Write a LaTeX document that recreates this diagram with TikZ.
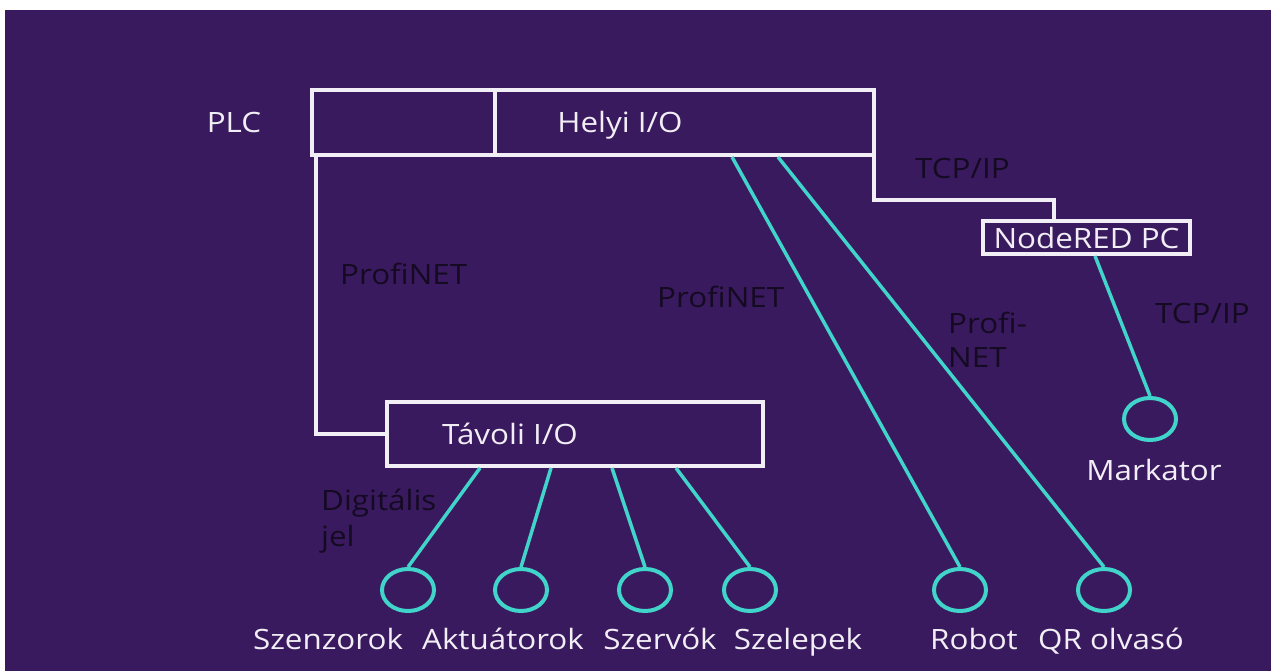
\documentclass[tikz,border=0pt]{standalone}
\usepackage{fontspec}
\setmainfont{Open Sans}[FakeStretch=1.12]
\usepackage{tikz}
\usetikzlibrary{shapes.geometric}
\definecolor{bgpurple}{RGB}{58,26,94}
\definecolor{netteal}{RGB}{64,212,202}
\definecolor{boxwhite}{RGB}{242,238,246}
\definecolor{inkdark}{RGB}{20,10,34}
\newcommand{\wirew}{4pt}
\newcommand{\linkw}{3.5pt}
\newcommand{\lblsize}{\fontsize{28}{34}\selectfont}

\begin{document}
\begin{tikzpicture}[x=1pt, y=-1pt,
        box/.style={draw=boxwhite, line width=\wirew, inner sep=0pt},
        wire/.style={draw=boxwhite, line width=\wirew},
        link/.style={draw=netteal, line width=\linkw},
        dev/.style={ellipse, draw=netteal, line width=\wirew, minimum width=52pt, minimum height=42pt, inner sep=0pt},
        lbl/.style={text=boxwhite, font=\lblsize, inner sep=0pt},
        netlbl/.style={text=inkdark, font=\lblsize, inner sep=0pt, anchor=base west}]
    \useasboundingbox (0,0) rectangle (1271,671);
    \fill[white] (0,0) rectangle (1271,671);
    \fill[bgpurple] (5,10) rectangle (1271,671);
    %\draw[help lines, step=50] (0,0) grid (1271,671);

    % PLC with its local I/O, the remote I/O and the PC
    \node[box, minimum width=183pt, minimum height=65pt] (plc) at (403.5,122.5) {};
    \node[box, minimum width=379pt, minimum height=65pt] (helyi) at (684.5,122.5) {};
    \node[box, minimum width=376pt, minimum height=64pt] (tavoli) at (575,434) {};
    \node[box, lbl, minimum width=207pt, minimum height=33pt] (nodered) at (1086.5,237.5) {NodeRED PC};

    % field devices
    \foreach \name/\x in {szenzor/408, aktuator/521, szervo/645, szelep/750, robot/960, qr/1104}
        \node[dev] (\name) at (\x,590) {};
    \node[dev] (markator) at (1150,419) {};

    % wiring
    \draw[wire] ([xshift=6pt]plc.south west) |- (tavoli.west);
    \draw[wire] ([xshift=-2pt]helyi.south east) -- ++(0,43) -| ([xshift=-33pt]nodered.north);
    \foreach \name/\dx in {szenzor/95, aktuator/166, szervo/227, szelep/291}
        \draw[link] ([xshift=\dx pt]tavoli.south west) -- (\name.north);
    \draw[link] ([xshift=239pt]helyi.south west) -- (robot.north);
    \draw[link] ([xshift=285pt]helyi.south west) -- (qr.north);
    \draw[link] ([xshift=114pt]nodered.south west) -- (markator.north);

    % labels
    \node[lbl, anchor=base] (plclbl) at (234,133) {PLC};
    \node[lbl, anchor=base] (helyilbl) at (620,133) {Helyi I/O};
    \node[lbl, anchor=base] (tavolilbl) at (510,444) {Távoli I/O};
    \node[lbl, anchor=base] (markatorlbl) at (1154,480) {Markator};
    \foreach \txt/\x [count=\i] in {Szenzorok/328, Aktuátorok/503, Szervók/660, Szelepek/798, Robot/974, QR olvasó/1111}
        \node[lbl, anchor=base] (devlbl\i) at (\x,649) {\txt};

    \node[netlbl] (pnleft) at (340,284) {ProfiNET};
    \node[netlbl] (pnmid) at (657,307) {ProfiNET};
    \node[netlbl] (pnrighta) at (948,333) {Profi-};
    \node[netlbl] (pnrightb) at (948,367) {NET};
    \node[netlbl] (tcptop) at (915,179) {TCP/IP};
    \node[netlbl] (tcpright) at (1155,323) {TCP/IP};
    \node[netlbl] (digia) at (321,510) {Digitális};
    \node[netlbl] (digib) at (321,546) {jel};
\end{tikzpicture}
\end{document}
